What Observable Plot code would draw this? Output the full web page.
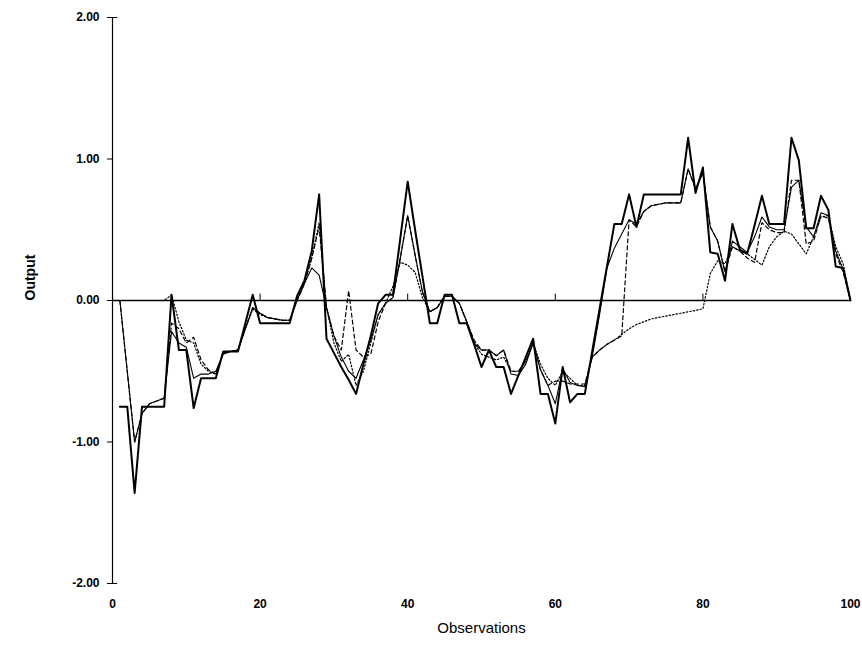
<!DOCTYPE html>
<html><head><meta charset="utf-8">
<script src="https://cdn.jsdelivr.net/npm/d3@7"></script>
<script src="https://cdn.jsdelivr.net/npm/@observablehq/plot@0.6"></script>
<style>body{margin:0;background:#fff;}</style>
</head><body><div id="chart"></div>
<script>
const observations = d3.range(1, 101);
const xTicks = [0, 20, 40, 60, 80, 100];
const yTicks = [-2, -1, 0, 1, 2];
const zeroTicks = [20, 40, 60, 80];

// thick solid line
const actual = [
 -0.75,-0.75,-1.36,-0.75,-0.75,-0.75,-0.75,0.04,-0.35,-0.35,
 -0.76,-0.55,-0.55,-0.55,-0.36,-0.36,-0.36,-0.16,0.04,-0.16,
 -0.16,-0.16,-0.16,-0.16,0.03,0.14,0.35,0.75,-0.27,-0.37,
 -0.47,-0.56,-0.66,-0.45,-0.25,-0.02,0.04,0.04,0.44,0.84,
 0.5,0.17,-0.16,-0.16,0.04,0.04,-0.16,-0.16,-0.31,-0.47,
 -0.35,-0.47,-0.47,-0.66,-0.53,-0.4,-0.27,-0.66,-0.66,-0.87,
 -0.47,-0.72,-0.66,-0.66,-0.36,-0.06,0.24,0.54,0.54,0.75,
 0.52,0.75,0.75,0.75,0.75,0.75,0.75,1.15,0.76,0.94,
 0.34,0.33,0.14,0.54,0.36,0.33,0.53,0.74,0.54,0.54,
 0.54,1.15,0.99,0.51,0.51,0.74,0.64,0.24,0.23,0.0
];
// thin solid line
const model1 = [
 0,-0.5,-1.0,-0.8,-0.73,-0.71,-0.69,-0.22,-0.3,-0.33,
 -0.55,-0.52,-0.52,-0.5,-0.38,-0.36,-0.35,-0.2,-0.05,-0.09,
 -0.12,-0.13,-0.14,-0.14,0.0,0.12,0.23,0.18,-0.05,-0.25,
 -0.4,-0.5,-0.55,-0.42,-0.28,-0.1,-0.02,0.02,0.3,0.6,
 0.32,0.06,-0.08,-0.05,0.03,0.03,-0.02,-0.15,-0.3,-0.35,
 -0.35,-0.39,-0.35,-0.52,-0.53,-0.45,-0.3,-0.49,-0.6,-0.73,
 -0.48,-0.58,-0.6,-0.61,-0.4,-0.1,0.23,0.37,0.47,0.57,
 0.54,0.63,0.67,0.68,0.69,0.69,0.69,0.93,0.79,0.9,
 0.52,0.42,0.2,0.42,0.38,0.34,0.45,0.59,0.52,0.5,
 0.5,0.8,0.85,0.52,0.45,0.62,0.6,0.35,0.22,0.0
];
// dashed line
const model2 = [
 0,-0.5,-1.0,-0.8,-0.73,-0.71,-0.69,-0.16,-0.2,-0.3,
 -0.26,-0.42,-0.49,-0.52,-0.37,-0.36,-0.35,-0.2,-0.05,-0.09,
 -0.12,-0.13,-0.14,-0.14,0.0,0.12,0.3,0.52,-0.05,-0.25,
 -0.35,0.07,-0.35,-0.4,-0.38,-0.15,-0.02,0.02,0.3,0.6,
 0.32,0.06,-0.08,-0.05,0.03,0.03,-0.02,-0.15,-0.28,-0.35,
 -0.35,-0.39,-0.35,-0.5,-0.5,-0.43,-0.3,-0.49,-0.6,-0.57,
 -0.57,-0.59,-0.59,-0.59,-0.4,-0.35,-0.31,-0.28,-0.25,0.57,
 0.52,0.63,0.67,0.68,0.69,0.69,0.69,0.93,0.79,0.9,
 0.52,0.42,0.2,0.38,0.35,0.3,0.27,0.55,0.5,0.48,
 0.48,0.85,0.85,0.4,0.42,0.6,0.58,0.33,0.2,0.0
];
// dotted line
const model3 = [
 0,0,0,0,0,0,0,0.04,-0.15,-0.28,
 -0.3,-0.45,-0.5,-0.52,-0.37,-0.36,-0.35,-0.2,-0.06,-0.1,
 -0.12,-0.13,-0.14,-0.14,0.0,0.12,0.3,0.55,-0.05,-0.3,
 -0.43,-0.38,-0.6,-0.5,-0.3,-0.1,-0.02,0.1,0.27,0.25,
 0.2,0.02,-0.08,-0.05,0.03,0.03,-0.02,-0.15,-0.3,-0.38,
 -0.4,-0.42,-0.4,-0.5,-0.5,-0.43,-0.3,-0.45,-0.55,-0.6,
 -0.5,-0.55,-0.6,-0.6,-0.4,-0.35,-0.31,-0.28,-0.24,-0.2,
 -0.17,-0.15,-0.13,-0.12,-0.11,-0.1,-0.09,-0.08,-0.07,-0.06,
 0.19,0.28,0.26,0.38,0.35,0.33,0.29,0.25,0.38,0.45,
 0.49,0.47,0.4,0.33,0.45,0.59,0.6,0.38,0.26,0.0
];

const toRows = vals => vals.map((v, i) => ({obs: observations[i], value: v}));
const font = "'Liberation Sans', Arial, Helvetica, sans-serif";

const chart = Plot.plot({
  width: 862, height: 655,
  marginLeft: 112, marginRight: 12, marginTop: 17, marginBottom: 72,
  style: {fontFamily: font, background: "white", color: "black"},
  x: {domain: [0, 100]},
  y: {domain: [-2, 2]},
  marks: [
    Plot.axisX({ticks: xTicks, tickSize: 0, tickPadding: 16, fontWeight: "bold", fontSize: 12, label: null}),
    Plot.axisY({ticks: yTicks, tickSize: 5, tickPadding: 8, tickFormat: d => d.toFixed(2), fontWeight: "bold", fontSize: 12, label: null}),
    Plot.ruleY([-2, 2], {x1: 0, x2: 0.7, stroke: "black", strokeWidth: 1}),
    Plot.ruleX([0], {y1: -2, y2: 2, stroke: "black", strokeWidth: 1.2}),
    Plot.ruleY([0], {x1: 0, x2: 100, stroke: "black", strokeWidth: 1.4}),
    Plot.ruleX(zeroTicks, {y1: 0, y2: 0.045, stroke: "black", strokeWidth: 1}),
    Plot.line(toRows(model3), {x: "obs", y: "value", stroke: "black", strokeWidth: 1.2, strokeDasharray: "1.5,2"}),
    Plot.line(toRows(model2), {x: "obs", y: "value", stroke: "black", strokeWidth: 1.2, strokeDasharray: "4,3"}),
    Plot.line(toRows(model1), {x: "obs", y: "value", stroke: "black", strokeWidth: 1.1}),
    Plot.line(toRows(actual), {x: "obs", y: "value", stroke: "black", strokeWidth: 2}),
    Plot.text(["Observations"], {frameAnchor: "bottom", dy: 49, fontSize: 15, fill: "black", style: "letter-spacing:0.7px"}),
    Plot.text(["Output"], {frameAnchor: "left", dx: -82, rotate: -90, fontSize: 14, fontWeight: "bold", fill: "black"})
  ]
});
document.getElementById("chart").appendChild(chart);
</script>
</body></html>
